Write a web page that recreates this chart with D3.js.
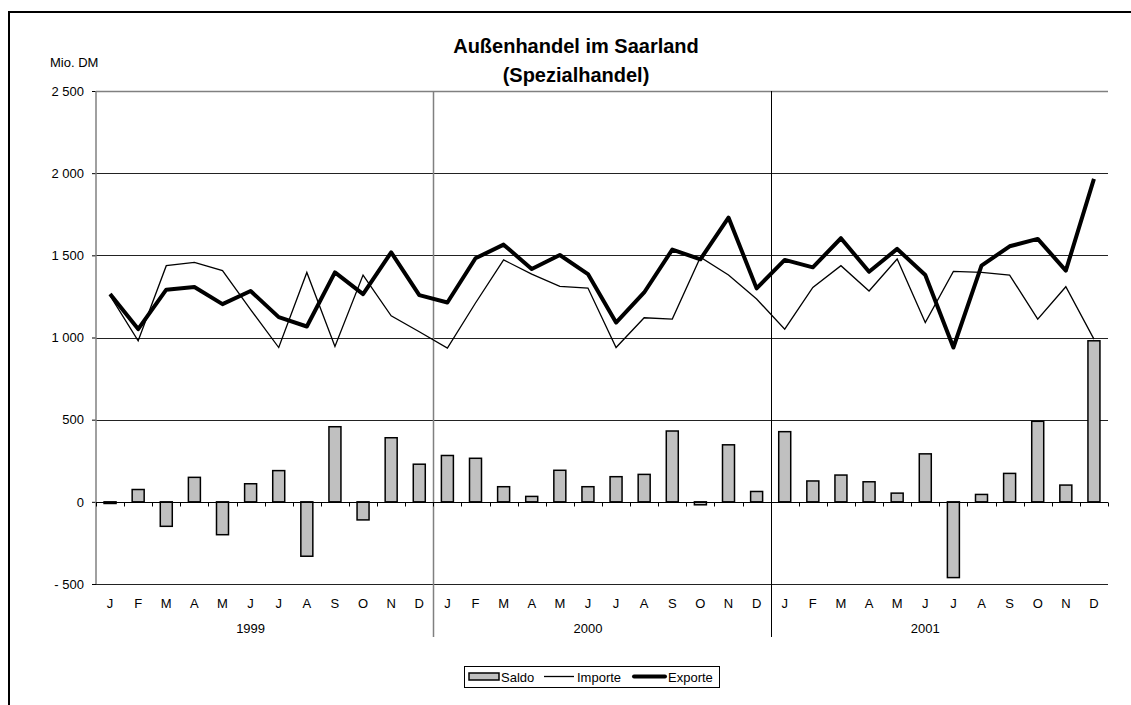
<!DOCTYPE html>
<html>
<head>
<meta charset="utf-8">
<script src="https://cdn.jsdelivr.net/npm/d3@7"></script>
<style>
  body { margin: 0; background: #fff; }
  svg { display: block; }
  text { font-family: "Liberation Sans", Arial, sans-serif; fill: #000; }
</style>
</head>
<body>
<div id="viz"></div>
<script>
// Monatswerte 1999-2001, Mio. DM
var months = ["J","F","M","A","M","J","J","A","S","O","N","D"];
var years = ["1999", "2000", "2001"];

var saldo = [
  -10, 75, -149, 149, -200, 110, 190, -331, 457, -110, 390, 229,
  282, 265, 92, 33, 192, 92, 153, 167, 431, -18, 347, 63,
  427, 127, 163, 122, 53, 292, -461, 45, 173, 490, 102, 980
];
var importe = [
  1255, 980, 1437, 1457, 1407, 1170, 939, 1396, 945, 1380, 1132, 1035,
  935, 1210, 1472, 1386, 1311, 1301, 939, 1120, 1112, 1488, 1380, 1234,
  1051, 1305, 1437, 1283, 1478, 1091, 1402, 1396, 1380, 1112, 1309, 990
];
var exporte = [
  1264, 1051, 1291, 1307, 1203, 1283, 1124, 1067, 1396, 1264, 1518, 1258,
  1213, 1482, 1565, 1417, 1502, 1386, 1091, 1274, 1535, 1476, 1730, 1299,
  1472, 1427, 1604, 1400, 1539, 1380, 939, 1437, 1555, 1600, 1407, 1965
];
var yTicks = [-500, 0, 500, 1000, 1500, 2000, 2500];

var W = 1131, H = 705;
// Plotbereich (nicht "top" nennen, das ist window.top)
var pL = 96, pR = 1108, pT = 91, pB = 584;

var svg = d3.select("#viz").append("svg")
  .attr("width", W)
  .attr("height", H);

// aeusserer Rahmen
svg.append("rect")
  .attr("x", 9).attr("y", 12)
  .attr("width", 1200).attr("height", 720)
  .attr("fill", "none")
  .attr("stroke", "#000")
  .attr("stroke-width", 2);

var idx = d3.range(saldo.length);
var x = d3.scaleBand().domain(idx).range([pL, pR]).padding(0);
var bw = x.bandwidth();
var cx = function (i) { return x(i) + bw / 2; };
var y = d3.scaleLinear().domain([-500, 2500]).range([pB, pT]);

var de = d3.formatLocale({ decimal: ",", thousands: " ", grouping: [3], currency: ["", ""] });
var fmt = de.format(",");
var yFmt = function (v) { return v < 0 ? "- " + fmt(-v) : fmt(v); };

// Gitterlinien
svg.append("g").selectAll("line")
  .data(yTicks)
  .join("line")
  .attr("x1", pL).attr("x2", pR)
  .attr("y1", function (d) { return Math.round(y(d)) + 0.5; })
  .attr("y2", function (d) { return Math.round(y(d)) + 0.5; })
  .attr("stroke", function (d) { return d == 2500 ? "#808080" : "#222"; })
  .attr("stroke-width", function (d) { return d == 2500 ? 1.5 : 1; });

// Y-Achse
var yAxis = svg.append("g")
  .attr("transform", "translate(" + pL + ",0)")
  .call(d3.axisLeft(y).tickValues(yTicks).tickSize(4).tickPadding(8).tickFormat(yFmt));
yAxis.select(".domain").remove();
yAxis.selectAll(".tick line").attr("stroke", "#000");
yAxis.selectAll("text").style("font-size", "13px");
svg.append("line")
  .attr("x1", pL).attr("x2", pL)
  .attr("y1", pT).attr("y2", pB)
  .attr("stroke", "#808080").attr("stroke-width", 1.5);

// Jahrestrenner
svg.append("g").selectAll("line")
  .data([12, 24])
  .join("line")
  .attr("x1", function (d) { return Math.round(x(d)) + 0.5; })
  .attr("x2", function (d) { return Math.round(x(d)) + 0.5; })
  .attr("y1", pT).attr("y2", 637)
  .attr("stroke", function (d, i) { return i == 0 ? "#808080" : "#000"; })
  .attr("stroke-width", function (d, i) { return i == 0 ? 1.5 : 1; });

// Saldo-Balken
var barW = 12;
svg.append("g").selectAll("rect")
  .data(saldo)
  .join("rect")
  .attr("x", function (d, i) { return cx(i) - barW / 2; })
  .attr("width", barW)
  .attr("y", function (d) { return y(Math.max(0, d)); })
  .attr("height", function (d) { return Math.abs(y(d) - y(0)); })
  .attr("fill", "#c0c0c0")
  .attr("stroke", "#000")
  .attr("stroke-width", 1.5);

// Nulllinie mit Kategorie-Strichen
var zero = Math.round(y(0)) + 0.5;
svg.append("line")
  .attr("x1", pL).attr("x2", pR)
  .attr("y1", zero).attr("y2", zero)
  .attr("stroke", "#000");
svg.append("g").selectAll("line")
  .data(d3.range(saldo.length + 1))
  .join("line")
  .attr("x1", function (d) { return Math.round(pL + d * bw) + 0.5; })
  .attr("x2", function (d) { return Math.round(pL + d * bw) + 0.5; })
  .attr("y1", zero).attr("y2", zero + 4)
  .attr("stroke", "#000");

// Linien
var line = function (vals) {
  return d3.line()
    .x(function (d, i) { return cx(i); })
    .y(function (d) { return y(d); })(vals);
};
svg.append("path")
  .attr("d", line(importe))
  .attr("fill", "none")
  .attr("stroke", "#000")
  .attr("stroke-width", 1.3)
  .attr("stroke-linejoin", "miter");
svg.append("path")
  .attr("d", line(exporte))
  .attr("fill", "none")
  .attr("stroke", "#000")
  .attr("stroke-width", 4)
  .attr("stroke-linejoin", "round");

// Monats- und Jahresbeschriftung
svg.append("g").selectAll("text")
  .data(idx)
  .join("text")
  .attr("x", function (i) { return cx(i); })
  .attr("y", 608)
  .attr("text-anchor", "middle")
  .style("font-size", "13px")
  .text(function (i) { return months[i % 12]; });
svg.append("g").selectAll("text")
  .data(years)
  .join("text")
  .attr("x", function (d, k) { return cx(k * 12 + 5); })
  .attr("y", 633)
  .attr("text-anchor", "middle")
  .style("font-size", "13px")
  .text(function (d) { return d; });

// Titel
svg.append("text")
  .attr("x", 50).attr("y", 67)
  .style("font-size", "13px")
  .text("Mio. DM");
var title = svg.append("text")
  .attr("text-anchor", "middle")
  .style("font-size", "20px")
  .style("font-weight", "bold");
title.append("tspan").attr("x", 576).attr("y", 53).text("Außenhandel im Saarland");
title.append("tspan").attr("x", 576).attr("y", 82).text("(Spezialhandel)");

// Legende
var lg = svg.append("g");
lg.append("rect")
  .attr("x", 464.5).attr("y", 666.5)
  .attr("width", 255).attr("height", 21)
  .attr("fill", "#fff").attr("stroke", "#000");
lg.append("rect")
  .attr("x", 469).attr("y", 673)
  .attr("width", 30).attr("height", 7)
  .attr("fill", "#c0c0c0").attr("stroke", "#000").attr("stroke-width", 1.5);
lg.append("text").attr("x", 501).attr("y", 682).style("font-size", "13px").text("Saldo");
lg.append("line")
  .attr("x1", 544).attr("x2", 574).attr("y1", 676.5).attr("y2", 676.5)
  .attr("stroke", "#000").attr("stroke-width", 1.3);
lg.append("text").attr("x", 577).attr("y", 682).style("font-size", "13px").text("Importe");
lg.append("line")
  .attr("x1", 634).attr("x2", 665).attr("y1", 676.5).attr("y2", 676.5)
  .attr("stroke", "#000").attr("stroke-width", 4).attr("stroke-linecap", "round");
lg.append("text").attr("x", 668).attr("y", 682).style("font-size", "13px").text("Exporte");
</script>
</body>
</html>
